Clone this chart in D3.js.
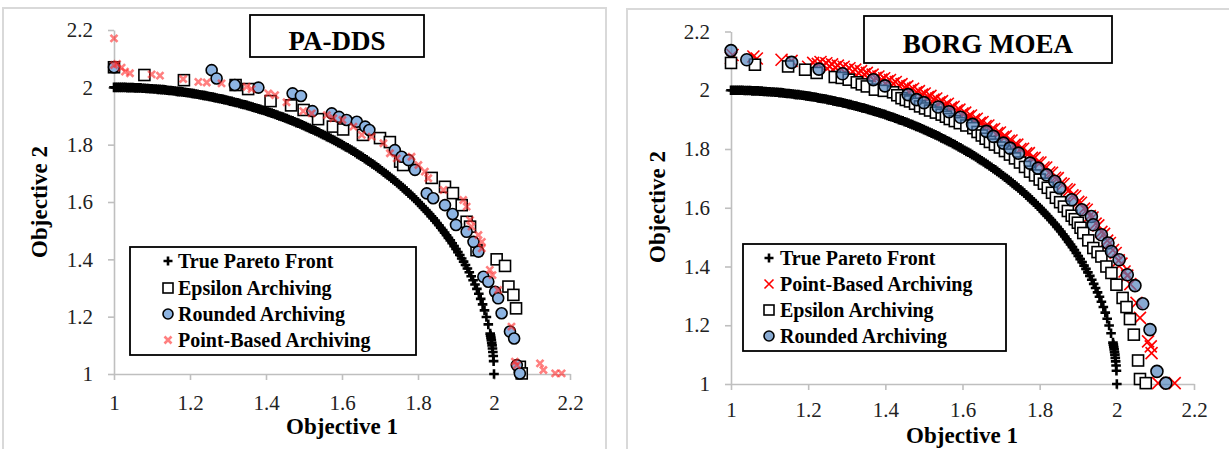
<!DOCTYPE html>
<html>
<head>
<meta charset="utf-8">
<script src="https://cdn.jsdelivr.net/npm/d3@7"></script>
<style>
  html, body { margin: 0; padding: 0; background: #fff; }
  svg { display: block; }
</style>
</head>
<body>
<svg id="chart" width="1229" height="449"></svg>
<script>
// ---------------------------------------------------------------
// Data
// ---------------------------------------------------------------
const tickValues = [1, 1.2, 1.4, 1.6, 1.8, 2, 2.2];
const tickLabels = ["1", "1.2", "1.4", "1.6", "1.8", "2", "2.2"];

// True Pareto front (shared by both panels)
const trueFrontX = [
  1.000, 1.005, 1.010, 1.015, 1.020, 1.025, 1.030, 1.035, 1.040, 1.045,
  1.050, 1.055, 1.060, 1.065, 1.070, 1.075, 1.080, 1.085, 1.090, 1.095,
  1.100, 1.105, 1.110, 1.115, 1.120, 1.125, 1.130, 1.135, 1.140, 1.145,
  1.150, 1.155, 1.160, 1.165, 1.170, 1.175, 1.180, 1.185, 1.190, 1.195,
  1.200, 1.205, 1.210, 1.215, 1.220, 1.225, 1.230, 1.235, 1.240, 1.245,
  1.250, 1.255, 1.260, 1.265, 1.270, 1.275, 1.280, 1.285, 1.290, 1.295,
  1.300, 1.305, 1.310, 1.315, 1.320, 1.325, 1.330, 1.335, 1.340, 1.345,
  1.350, 1.355, 1.360, 1.365, 1.370, 1.375, 1.380, 1.385, 1.390, 1.395,
  1.400, 1.405, 1.410, 1.415, 1.420, 1.425, 1.430, 1.435, 1.440, 1.445,
  1.450, 1.455, 1.460, 1.465, 1.470, 1.475, 1.480, 1.485, 1.490, 1.495,
  1.500, 1.505, 1.510, 1.515, 1.520, 1.525, 1.530, 1.535, 1.540, 1.545,
  1.550, 1.555, 1.560, 1.565, 1.570, 1.575, 1.580, 1.585, 1.590, 1.595,
  1.600, 1.605, 1.610, 1.615, 1.620, 1.625, 1.630, 1.635, 1.640, 1.645,
  1.650, 1.655, 1.660, 1.665, 1.670, 1.675, 1.680, 1.685, 1.690, 1.695,
  1.700, 1.705, 1.710, 1.715, 1.720, 1.725, 1.730, 1.735, 1.740, 1.745,
  1.750, 1.755, 1.760, 1.765, 1.770, 1.775, 1.780, 1.785, 1.790, 1.795,
  1.800, 1.805, 1.810, 1.815, 1.820, 1.825, 1.830, 1.835, 1.840, 1.845,
  1.850, 1.855, 1.860, 1.865, 1.870, 1.875, 1.880, 1.885, 1.890, 1.895,
  1.900, 1.905, 1.910, 1.915, 1.920, 1.925, 1.930, 1.935, 1.940, 1.945,
  1.950, 1.955, 1.960, 1.965, 1.970, 1.975, 1.980, 1.985,
  1.990, 1.991, 1.992, 1.993, 1.994, 1.995, 1.996, 1.997, 1.998, 1.999, 2.000
];
const trueFrontY = [
  2.000, 2.000, 2.000, 2.000, 2.000, 2.000, 2.000, 1.999, 1.999, 1.999,
  1.999, 1.998, 1.998, 1.998, 1.998, 1.997, 1.997, 1.996, 1.996, 1.995,
  1.995, 1.994, 1.994, 1.993, 1.993, 1.992, 1.992, 1.991, 1.990, 1.989,
  1.989, 1.988, 1.987, 1.986, 1.985, 1.985, 1.984, 1.983, 1.982, 1.981,
  1.980, 1.979, 1.978, 1.977, 1.976, 1.974, 1.973, 1.972, 1.971, 1.970,
  1.968, 1.967, 1.966, 1.964, 1.963, 1.961, 1.960, 1.959, 1.957, 1.956,
  1.954, 1.952, 1.951, 1.949, 1.947, 1.946, 1.944, 1.942, 1.940, 1.939,
  1.937, 1.935, 1.933, 1.931, 1.929, 1.927, 1.925, 1.923, 1.921, 1.919,
  1.917, 1.914, 1.912, 1.910, 1.908, 1.905, 1.903, 1.900, 1.898, 1.896,
  1.893, 1.891, 1.888, 1.885, 1.883, 1.880, 1.877, 1.875, 1.872, 1.869,
  1.866, 1.863, 1.860, 1.857, 1.854, 1.851, 1.848, 1.845, 1.842, 1.838,
  1.835, 1.832, 1.828, 1.825, 1.822, 1.818, 1.815, 1.811, 1.807, 1.804,
  1.800, 1.796, 1.792, 1.789, 1.785, 1.781, 1.777, 1.773, 1.768, 1.764,
  1.760, 1.756, 1.751, 1.747, 1.742, 1.738, 1.733, 1.729, 1.724, 1.719,
  1.714, 1.709, 1.704, 1.699, 1.694, 1.689, 1.683, 1.678, 1.673, 1.667,
  1.661, 1.656, 1.650, 1.644, 1.638, 1.632, 1.626, 1.619, 1.613, 1.607,
  1.600, 1.593, 1.586, 1.579, 1.572, 1.565, 1.558, 1.550, 1.543, 1.535,
  1.527, 1.519, 1.510, 1.502, 1.493, 1.484, 1.475, 1.466, 1.456, 1.446,
  1.436, 1.425, 1.415, 1.403, 1.392, 1.380, 1.368, 1.355, 1.341, 1.327,
  1.312, 1.297, 1.280, 1.262, 1.243, 1.222, 1.199, 1.173,
  1.141, 1.134, 1.126, 1.118, 1.109, 1.100, 1.089, 1.077, 1.063, 1.045, 1.000
];

// PA-DDS results
const paddsEpsilon = [
  [1.000, 2.070], [1.080, 2.043], [1.184, 2.025], [1.320, 2.008], [1.353, 1.994],
  [1.412, 1.952], [1.466, 1.937], [1.499, 1.921], [1.537, 1.889], [1.576, 1.863],
  [1.603, 1.853], [1.655, 1.834], [1.700, 1.823], [1.726, 1.809], [1.753, 1.741],
  [1.761, 1.729], [1.836, 1.684], [1.871, 1.653], [1.892, 1.631], [1.915, 1.589],
  [1.928, 1.531], [1.937, 1.514], [1.954, 1.432], [2.007, 1.400], [2.029, 1.377],
  [2.038, 1.305], [2.051, 1.276], [2.058, 1.229], [2.068, 1.025], [2.073, 1.002]
];
const paddsRounded = [
  [1.000, 2.070], [1.257, 2.060], [1.270, 2.031], [1.318, 2.008], [1.380, 1.999],
  [1.470, 1.979], [1.492, 1.970], [1.522, 1.917], [1.573, 1.909], [1.592, 1.897],
  [1.612, 1.886], [1.639, 1.880], [1.661, 1.863], [1.672, 1.851], [1.739, 1.781],
  [1.757, 1.758], [1.775, 1.746], [1.792, 1.712], [1.823, 1.630], [1.840, 1.613],
  [1.871, 1.589], [1.891, 1.558], [1.900, 1.520], [1.928, 1.496], [1.946, 1.461],
  [1.959, 1.427], [1.972, 1.339], [1.985, 1.322], [2.003, 1.287], [2.011, 1.264],
  [2.020, 1.212], [2.042, 1.148], [2.053, 1.124], [2.060, 1.031], [2.068, 1.002]
];
const paddsPointBased = [
  [1.000, 2.171], [1.000, 2.078], [1.008, 2.082], [1.020, 2.069], [1.029, 2.055],
  [1.042, 2.049], [1.099, 2.045], [1.121, 2.041], [1.182, 2.029], [1.222, 2.019],
  [1.244, 2.017], [1.283, 2.014], [1.349, 2.002], [1.362, 1.994], [1.406, 1.979],
  [1.424, 1.973], [1.454, 1.948], [1.498, 1.917], [1.520, 1.909], [1.560, 1.903],
  [1.577, 1.892], [1.601, 1.886], [1.630, 1.863], [1.652, 1.834], [1.678, 1.828],
  [1.709, 1.805], [1.726, 1.770], [1.744, 1.752], [1.783, 1.758], [1.801, 1.729],
  [1.818, 1.706], [1.827, 1.683], [1.867, 1.642], [1.919, 1.607], [1.928, 1.584],
  [1.937, 1.537], [1.941, 1.514], [1.959, 1.485], [1.968, 1.461], [1.968, 1.438],
  [1.989, 1.363], [1.996, 1.345], [2.011, 1.293], [2.046, 1.165], [2.055, 1.043],
  [2.060, 1.031], [2.121, 1.037], [2.130, 1.014], [2.161, 1.002], [2.178, 1.002]
];

// BORG MOEA results
const borgPointBased = [
  [1.000, 2.110], [1.004, 2.120], [1.058, 2.115], [1.067, 2.108], [1.131, 2.104],
  [1.157, 2.100], [1.200, 2.080], [1.213, 2.093], [1.225, 2.090], [1.232, 2.096],
  [1.240, 2.086], [1.247, 2.092], [1.255, 2.082], [1.262, 2.088], [1.270, 2.078],
  [1.277, 2.084], [1.285, 2.074], [1.292, 2.080], [1.300, 2.069], [1.307, 2.075],
  [1.315, 2.064], [1.322, 2.070], [1.330, 2.059], [1.337, 2.065], [1.345, 2.054],
  [1.352, 2.059], [1.360, 2.048], [1.367, 2.053], [1.375, 2.042], [1.382, 2.047],
  [1.390, 2.036], [1.397, 2.041], [1.405, 2.030], [1.412, 2.035], [1.420, 2.023],
  [1.427, 2.028], [1.435, 2.016], [1.442, 2.021], [1.450, 2.009], [1.457, 2.013],
  [1.465, 2.001], [1.472, 2.005], [1.480, 1.993], [1.487, 1.997], [1.495, 1.985],
  [1.502, 1.989], [1.510, 1.977], [1.517, 1.981], [1.525, 1.968], [1.532, 1.972],
  [1.540, 1.959], [1.547, 1.963], [1.555, 1.950], [1.562, 1.954], [1.570, 1.941],
  [1.577, 1.944], [1.585, 1.931], [1.592, 1.934], [1.600, 1.921], [1.607, 1.924],
  [1.615, 1.911], [1.622, 1.914], [1.630, 1.900], [1.637, 1.903], [1.645, 1.889],
  [1.652, 1.892], [1.660, 1.878], [1.667, 1.880], [1.675, 1.866], [1.682, 1.868],
  [1.690, 1.854], [1.697, 1.856], [1.705, 1.841], [1.712, 1.843], [1.720, 1.828],
  [1.727, 1.829], [1.735, 1.814], [1.742, 1.815], [1.750, 1.800], [1.757, 1.801],
  [1.765, 1.785], [1.772, 1.786], [1.780, 1.770], [1.787, 1.770], [1.795, 1.754],
  [1.802, 1.754], [1.810, 1.737], [1.817, 1.737], [1.825, 1.720], [1.832, 1.719],
  [1.840, 1.702], [1.847, 1.701], [1.855, 1.683], [1.862, 1.681], [1.870, 1.663],
  [1.877, 1.661], [1.885, 1.642], [1.892, 1.639], [1.900, 1.620], [1.907, 1.617],
  [1.915, 1.597], [1.922, 1.593], [1.930, 1.572], [1.937, 1.567], [1.945, 1.546],
  [1.952, 1.540], [1.960, 1.518], [1.967, 1.511], [1.975, 1.488], [1.982, 1.480],
  [1.990, 1.456], [1.997, 1.446], [2.005, 1.421], [2.012, 1.410], [2.020, 1.383],
  [2.027, 1.369], [2.035, 1.340], [2.051, 1.276], [2.060, 1.225], [2.081, 1.145],
  [2.088, 1.128], [2.090, 1.105], [2.107, 1.003], [2.150, 1.003]
];
const borgEpsilon = [
  [1.000, 2.093], [1.062, 2.087], [1.148, 2.081], [1.192, 2.070], [1.222, 2.059],
  [1.269, 2.045], [1.287, 2.042], [1.305, 2.036], [1.326, 2.027], [1.339, 2.020],
  [1.352, 2.013], [1.373, 2.002], [1.396, 1.998], [1.420, 1.993], [1.431, 1.983],
  [1.442, 1.973], [1.453, 1.967], [1.464, 1.962], [1.477, 1.954], [1.490, 1.945],
  [1.503, 1.938], [1.516, 1.931], [1.531, 1.924], [1.546, 1.917], [1.557, 1.910],
  [1.567, 1.902], [1.580, 1.895], [1.593, 1.888], [1.610, 1.880], [1.628, 1.871],
  [1.639, 1.858], [1.650, 1.846], [1.660, 1.835], [1.671, 1.824], [1.684, 1.815],
  [1.697, 1.805], [1.710, 1.793], [1.723, 1.781], [1.736, 1.768], [1.749, 1.754],
  [1.762, 1.739], [1.775, 1.723], [1.788, 1.710], [1.800, 1.696], [1.811, 1.682],
  [1.821, 1.668], [1.832, 1.651], [1.842, 1.634], [1.853, 1.619], [1.863, 1.604],
  [1.873, 1.589], [1.883, 1.573], [1.891, 1.561], [1.899, 1.549], [1.906, 1.532],
  [1.913, 1.514], [1.926, 1.489], [1.939, 1.463], [1.950, 1.449], [1.960, 1.434],
  [1.973, 1.400], [1.986, 1.378], [1.999, 1.338], [2.015, 1.293], [2.025, 1.262],
  [2.034, 1.221], [2.044, 1.168], [2.055, 1.080], [2.060, 1.017], [2.075, 1.003]
];
const borgRounded = [
  [1.000, 2.135], [1.041, 2.104], [1.157, 2.095], [1.228, 2.072], [1.289, 2.056],
  [1.369, 2.036], [1.399, 2.015], [1.459, 1.985], [1.481, 1.968], [1.500, 1.958],
  [1.537, 1.943], [1.565, 1.927], [1.595, 1.908], [1.626, 1.884], [1.662, 1.860],
  [1.680, 1.843], [1.706, 1.820], [1.723, 1.803], [1.745, 1.786], [1.775, 1.752],
  [1.796, 1.735], [1.818, 1.712], [1.839, 1.690], [1.852, 1.667], [1.883, 1.627],
  [1.909, 1.593], [1.934, 1.570], [1.939, 1.542], [1.960, 1.508], [1.977, 1.480],
  [1.986, 1.451], [2.006, 1.423], [2.027, 1.372], [2.047, 1.335], [2.067, 1.273],
  [2.086, 1.185], [2.104, 1.043], [2.127, 1.003]
];

// ---------------------------------------------------------------
// Drawing
// ---------------------------------------------------------------
const FONT = "'Liberation Serif', 'Times New Roman', serif";
const svg = d3.select("#chart");
const trueFront = trueFrontX.map((x, i) => [x, trueFrontY[i]]);

// Marker styles
const markers = {
  plus: { draw: (sel, s) => sel.append("path")
            .attr("d", `M${-s},0H${s}M0,${-s}V${s}`)
            .attr("fill", "none").attr("stroke", "#000").attr("stroke-width", 2.6) },
  square: { draw: (sel, s) => sel.append("rect")
            .attr("x", -s).attr("y", -s).attr("width", 2 * s).attr("height", 2 * s)
            .attr("fill", "#fff").attr("stroke", "#000").attr("stroke-width", 1.6) },
  circleLight: { draw: (sel, s) => sel.append("circle")
            .attr("r", s).attr("fill", "#8db4e2").attr("stroke", "#000").attr("stroke-width", 1.6) },
  circleAlpha: { draw: (sel, s) => sel.append("circle")
            .attr("r", s).attr("fill", "#4f81bd").attr("fill-opacity", 0.68)
            .attr("stroke", "#000").attr("stroke-width", 1.6) },
  timesSoft: { draw: (sel, s) => sel.append("path")
            .attr("d", `M${-s},${-s}L${s},${s}M${-s},${s}L${s},${-s}`)
            .attr("fill", "none").attr("stroke", "#ff2a2a").attr("stroke-opacity", 0.6)
            .attr("stroke-width", 2.6) },
  timesRed: { draw: (sel, s) => sel.append("path")
            .attr("d", `M${-s},${-s}L${s},${s}M${-s},${s}L${s},${-s}`)
            .attr("fill", "none").attr("stroke", "#ff0000").attr("stroke-width", 1.6) }
};

function drawPanel(cfg) {
  const g = svg.append("g");

  // Outer chart frame
  g.append("rect")
    .attr("x", cfg.frame[0]).attr("y", cfg.frame[1])
    .attr("width", cfg.frame[2]).attr("height", cfg.frame[3])
    .attr("fill", "#fff").attr("stroke", "#d9d9d9").attr("stroke-width", 2);

  const x = d3.scaleLinear().domain([1, 2.2]).range(cfg.xRange);
  const y = d3.scaleLinear().domain([1, 2.2]).range(cfg.yRange);

  // Axes
  const xAxis = d3.axisBottom(x).tickValues(tickValues)
    .tickFormat((d, i) => tickLabels[i]).tickSize(6).tickSizeOuter(0).tickPadding(cfg.xPad);
  const yAxis = d3.axisLeft(y).tickValues(tickValues)
    .tickFormat((d, i) => tickLabels[i]).tickSize(6).tickSizeOuter(0).tickPadding(15);

  const gx = g.append("g").attr("transform", `translate(0,${cfg.yRange[0]})`).call(xAxis);
  const gy = g.append("g").attr("transform", `translate(${cfg.xRange[0]},0)`).call(yAxis);
  [gx, gy].forEach(ax => {
    ax.selectAll(".domain, .tick line").attr("stroke", "#bfbfbf").attr("stroke-width", 1.6);
    ax.selectAll(".tick text").attr("fill", "#222")
      .style("font-family", FONT).style("font-size", "21px");
  });

  // Axis titles
  g.append("text")
    .attr("x", cfg.xTitle[0]).attr("y", cfg.xTitle[1])
    .attr("text-anchor", "middle")
    .style("font-family", FONT).style("font-size", "23px").style("font-weight", "bold")
    .text("Objective 1");
  g.append("text")
    .attr("transform", `translate(${cfg.yTitle[0]},${cfg.yTitle[1]}) rotate(-90)`)
    .attr("text-anchor", "middle")
    .style("font-family", FONT).style("font-size", "23px").style("font-weight", "bold")
    .text("Objective 2");

  // Series
  cfg.series.forEach(s => {
    const sg = g.append("g");
    s.data.forEach(d => {
      const m = sg.append("g").attr("transform", `translate(${x(d[0])},${y(d[1])})`);
      markers[s.marker].draw(m, s.size);
    });
  });

  // Title box
  const tb = cfg.titleBox;
  g.append("rect")
    .attr("x", tb.rect[0]).attr("y", tb.rect[1]).attr("width", tb.rect[2]).attr("height", tb.rect[3])
    .attr("fill", "#fff").attr("stroke", "#000").attr("stroke-width", 1.8);
  g.append("text")
    .attr("x", tb.rect[0] + tb.rect[2] / 2).attr("y", tb.baseline)
    .attr("text-anchor", "middle")
    .style("font-family", FONT).style("font-size", "27px").style("font-weight", "bold")
    .text(tb.text);

  // Legend
  const lg = cfg.legend;
  g.append("rect")
    .attr("x", lg.rect[0]).attr("y", lg.rect[1]).attr("width", lg.rect[2]).attr("height", lg.rect[3])
    .attr("fill", "#fff").attr("stroke", "#000").attr("stroke-width", 1.8);
  lg.rows.forEach((r, i) => {
    const s = cfg.series.find(q => q.name === r);
    const by = lg.baselines[i];
    const m = g.append("g").attr("transform", `translate(${lg.markerX},${by - 7})`);
    markers[s.marker].draw(m, s.legendSize);
    g.append("text")
      .attr("x", lg.textX).attr("y", by)
      .style("font-family", FONT).style("font-size", "20px").style("font-weight", "bold")
      .text(r);
  });
}

// PA-DDS panel
drawPanel({
  frame: [3, 8, 603, 460],
  xRange: [114, 570],
  yRange: [374, 30],
  xPad: 15,
  xTitle: [342, 434],
  yTitle: [47, 202],
  titleBox: { rect: [250, 15, 174, 42], baseline: 50, text: "PA-DDS" },
  legend: {
    rect: [130, 247, 286, 108],
    markerX: 168, textX: 178,
    baselines: [268, 295, 321, 347],
    rows: ["True Pareto Front", "Epsilon Archiving", "Rounded Archiving", "Point-Based Archiving"]
  },
  series: [
    { name: "True Pareto Front", data: trueFront, marker: "plus", size: 4.8, legendSize: 4.5 },
    { name: "Epsilon Archiving", data: paddsEpsilon, marker: "square", size: 5.5, legendSize: 5 },
    { name: "Rounded Archiving", data: paddsRounded, marker: "circleLight", size: 5.5, legendSize: 5 },
    { name: "Point-Based Archiving", data: paddsPointBased, marker: "timesSoft", size: 3.5, legendSize: 3.5 }
  ]
});

// BORG MOEA panel
drawPanel({
  frame: [627, 9, 620, 460],
  xRange: [731, 1194],
  yRange: [384, 31.5],
  xPad: 12,
  xTitle: [962, 443],
  yTitle: [665, 207],
  titleBox: { rect: [864, 16, 248, 47], baseline: 53, text: "BORG MOEA" },
  legend: {
    rect: [743, 244, 263, 107],
    markerX: 769, textX: 780,
    baselines: [265, 291, 317, 343],
    rows: ["True Pareto Front", "Point-Based Archiving", "Epsilon Archiving", "Rounded Archiving"]
  },
  series: [
    { name: "True Pareto Front", data: trueFront, marker: "plus", size: 4.8, legendSize: 4.5 },
    { name: "Point-Based Archiving", data: borgPointBased, marker: "timesRed", size: 6, legendSize: 4.5 },
    { name: "Epsilon Archiving", data: borgEpsilon, marker: "square", size: 5.5, legendSize: 5 },
    { name: "Rounded Archiving", data: borgRounded, marker: "circleAlpha", size: 6, legendSize: 5 }
  ]
});
</script>
</body>
</html>
